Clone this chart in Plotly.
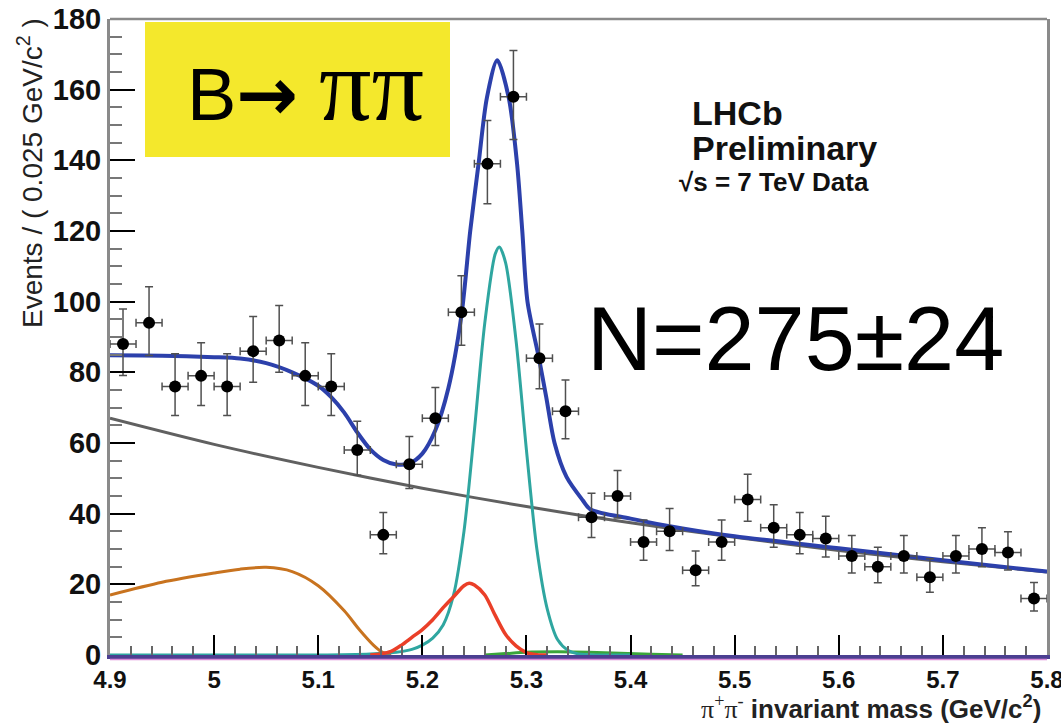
import numpy as np
import plotly.graph_objects as go

# ---------------- data ----------------
bin_centers = [4.9125, 4.9375, 4.9625, 4.9875, 5.0125, 5.0375, 5.0625, 5.0875, 5.1125,
               5.1375, 5.1625, 5.1875, 5.2125, 5.2375, 5.2625, 5.2875, 5.3125, 5.3375,
               5.3625, 5.3875, 5.4125, 5.4375, 5.4625, 5.4875, 5.5125, 5.5375, 5.5625,
               5.5875, 5.6125, 5.6375, 5.6625, 5.6875, 5.7125, 5.7375, 5.7625, 5.7875]
counts = [88, 94, 76, 79, 76, 86, 89, 79, 76, 58, 34, 54, 67, 97, 139, 158, 84, 69,
          39, 45, 32, 35, 24, 32, 44, 36, 34, 33, 28, 25, 28, 22, 28, 30, 29, 16]
half_bin = 0.0125

total_x = [4.9, 4.95, 5.0, 5.025, 5.05, 5.075, 5.1, 5.1125, 5.125, 5.1375, 5.15, 5.1625,
           5.175, 5.1875, 5.2, 5.2125, 5.225, 5.2375, 5.246, 5.254, 5.262, 5.272, 5.283,
           5.291, 5.296, 5.301, 5.312, 5.319, 5.327, 5.3385, 5.354, 5.3615, 5.4, 5.45,
           5.5, 5.6, 5.7, 5.8]
total_y = [84.8, 84.7, 84.3, 83.9, 82.6, 80.0, 76.2, 73.0, 68.6, 63.0, 58.2, 55.2,
           53.9, 54.2, 57.0, 63.6, 75.5, 96.0, 120.0, 139.0, 157.7, 168.3, 157.7,
           139.0, 120.0, 100.0, 84.0, 73.0, 60.0, 50.4, 43.8, 41.2, 38.6, 35.8,
           33.6, 30.2, 26.8, 23.6]

comb_x = [4.9, 5.0, 5.1, 5.2, 5.3, 5.4, 5.5, 5.6, 5.7, 5.8]
comb_y = [67.0, 59.6, 53.1, 47.2, 42.0, 37.4, 33.3, 29.6, 26.4, 23.5]

sig_x = [4.9, 5.1, 5.15, 5.175, 5.19, 5.2, 5.21, 5.22, 5.23, 5.24, 5.25, 5.26, 5.27,
         5.274, 5.28, 5.29, 5.30, 5.31, 5.32, 5.33, 5.34, 5.35, 5.37, 5.4]
sig_y = [0, 0, 0.3, 0.8, 1.6, 2.8, 4.8, 8.5, 17, 35, 63.5, 94, 113.5,
         115.5, 111, 89, 58, 30, 13, 4.3, 1.3, 0.3, 0, 0]

kpi_x = [5.15, 5.16, 5.17, 5.18, 5.19, 5.20, 5.21, 5.22, 5.23, 5.24, 5.245, 5.25,
         5.26, 5.27, 5.28, 5.29, 5.30, 5.31, 5.32]
kpi_y = [0, 0.3, 1.0, 2.8, 5.0, 7.2, 10.0, 13.4, 16.5, 19.6, 20.3, 19.8,
         17.0, 11.2, 5.8, 2.6, 0.7, 0.1, 0]

part_x = [4.9, 4.95, 5.0, 5.025, 5.05, 5.075, 5.1, 5.125, 5.14, 5.153, 5.161, 5.17]
part_y = [17.0, 20.6, 23.2, 24.3, 24.8, 23.6, 19.6, 12.5, 7.0, 2.8, 0.9, 0]

green_x = [5.26, 5.28, 5.30, 5.33, 5.36, 5.39, 5.42, 5.45]
green_y = [0, 0.4, 0.8, 0.9, 0.8, 0.5, 0.2, 0]

x_ticks = [4.9, 5.0, 5.1, 5.2, 5.3, 5.4, 5.5, 5.6, 5.7, 5.8]
x_ticklabels = ["4.9", "5", "5.1", "5.2", "5.3", "5.4", "5.5", "5.6", "5.7", "5.8"]
y_ticks = [0, 20, 40, 60, 80, 100, 120, 140, 160, 180]

# Poisson-style asymmetric errors derived from counts
cnt = np.array(counts, dtype=float)
err_hi = np.sqrt(cnt + 0.25) + 0.5
err_lo = np.sqrt(cnt + 0.25) - 0.5

# ---------------- figure ----------------
fig = go.Figure()

def curve(x, y, color, width):
    fig.add_trace(go.Scatter(x=x, y=y, mode="lines",
                             line=dict(color=color, width=width, shape="spline", smoothing=0.8),
                             hoverinfo="skip", showlegend=False))

curve(comb_x, comb_y, "#606060", 3)
curve(part_x, part_y, "#c8731f", 3)
curve(green_x, green_y, "#3aa53a", 3)
curve(sig_x, sig_y, "#2fa6a0", 3)
curve(kpi_x, kpi_y, "#ea3f28", 3.5)
curve(total_x, total_y, "#2c40ab", 4)

fig.add_trace(go.Scatter(
    x=bin_centers, y=counts, mode="markers",
    marker=dict(color="black", size=12),
    error_x=dict(type="constant", value=half_bin, color="#505050", thickness=1.5, width=4),
    error_y=dict(type="data", array=err_hi, arrayminus=err_lo, symmetric=False,
                 color="#505050", thickness=1.5, width=4),
    showlegend=False, hoverinfo="skip"))

L, R, T, B = 110, 1047, 19, 655
W, H = R - L, B - T

def px(x):
    return (x - L) / W

def py(y):
    return (B - y) / H

fig.update_layout(
    width=1061, height=725,
    margin=dict(l=L, r=1061 - R, t=T, b=725 - B, autoexpand=False),
    paper_bgcolor="white", plot_bgcolor="white",
    font=dict(family="Liberation Sans", color="black"),
    xaxis=dict(range=[4.9, 5.8], tickmode="array", tickvals=x_ticks, ticktext=x_ticklabels,
               ticks="inside", ticklen=20, tickwidth=2, tickcolor="black",
               ticklabeloverflow="allow", automargin=False,
               minor=dict(dtick=0.02, ticks="inside", ticklen=9, tickwidth=1.5, tickcolor="#666"),
               showgrid=False, zeroline=False, showline=True, linecolor="#4b3f91", linewidth=4,
               tickfont=dict(family="Liberation Sans", size=24, weight="bold", color="#111")),
    yaxis=dict(range=[0, 180], tickmode="array", tickvals=y_ticks,
               ticks="inside", ticklen=25, tickwidth=2, tickcolor="black", automargin=False,
               minor=dict(dtick=5, ticks="inside", ticklen=12, tickwidth=1.5, tickcolor="#777"),
               showgrid=False, zeroline=False, showline=True, linecolor="#8a8a8a", linewidth=3,
               mirror=True,
               tickfont=dict(family="Liberation Sans", size=29, weight="bold", color="#111")),
    shapes=[
        dict(type="line", xref="paper", yref="paper", x0=0, x1=1, y0=1, y1=1,
             line=dict(color="#8a8a8a", width=2.5)),
        dict(type="line", xref="paper", yref="paper", x0=0, x1=1, y0=py(659.5), y1=py(659.5),
             line=dict(color="#d98ad6", width=1.5)),
        dict(type="rect", xref="paper", yref="paper", x0=px(145), x1=px(450),
             y0=py(157), y1=py(22), fillcolor="#f4e82c", line=dict(width=0), layer="below"),
    ],
    annotations=[
        dict(x=px(185), y=py(84), xref="paper", yref="paper", xanchor="left", yanchor="middle",
             showarrow=False,
             text="B<span style='font-family:DejaVu Sans;font-weight:bold'>→</span> "
                  "<span style='font-family:Liberation Serif;font-size:104px'>ππ</span>",
             font=dict(family="Liberation Sans", size=74, color="black")),
        dict(x=px(690), y=py(113), xref="paper", yref="paper", xanchor="left", yanchor="middle",
             showarrow=False, text="LHCb",
             font=dict(family="Liberation Sans", size=34, weight="bold", color="#111")),
        dict(x=px(690), y=py(148), xref="paper", yref="paper", xanchor="left", yanchor="middle",
             showarrow=False, text="Preliminary",
             font=dict(family="Liberation Sans", size=34, weight="bold", color="#111")),
        dict(x=px(677), y=py(182), xref="paper", yref="paper", xanchor="left", yanchor="middle",
             showarrow=False, text="√s = 7 TeV Data",
             font=dict(family="Liberation Sans", size=26, weight="bold", color="#111")),
        dict(x=px(585), y=py(339), xref="paper", yref="paper", xanchor="left", yanchor="middle",
             showarrow=False, text="N=275±24",
             font=dict(family="Liberation Sans", size=90, color="black")),
        dict(x=px(1043), y=py(707), xref="paper", yref="paper", xanchor="right", yanchor="middle",
             showarrow=False,
             text="<span style='font-family:Liberation Serif;font-weight:normal'>π<sup>+</sup>π<sup>-</sup></span> invariant mass (GeV/c<sup>2</sup>)",
             font=dict(family="Liberation Sans", size=26, weight="bold", color="#222")),
        dict(x=px(30), y=py(16), xref="paper", yref="paper", xanchor="center", yanchor="top",
             showarrow=False, textangle=-90,
             text="Events / ( 0.025 GeV/c<sup>2</sup> )",
             font=dict(family="Liberation Sans", size=28, color="#222")),
    ],
)

fig.write_html("out.html")
